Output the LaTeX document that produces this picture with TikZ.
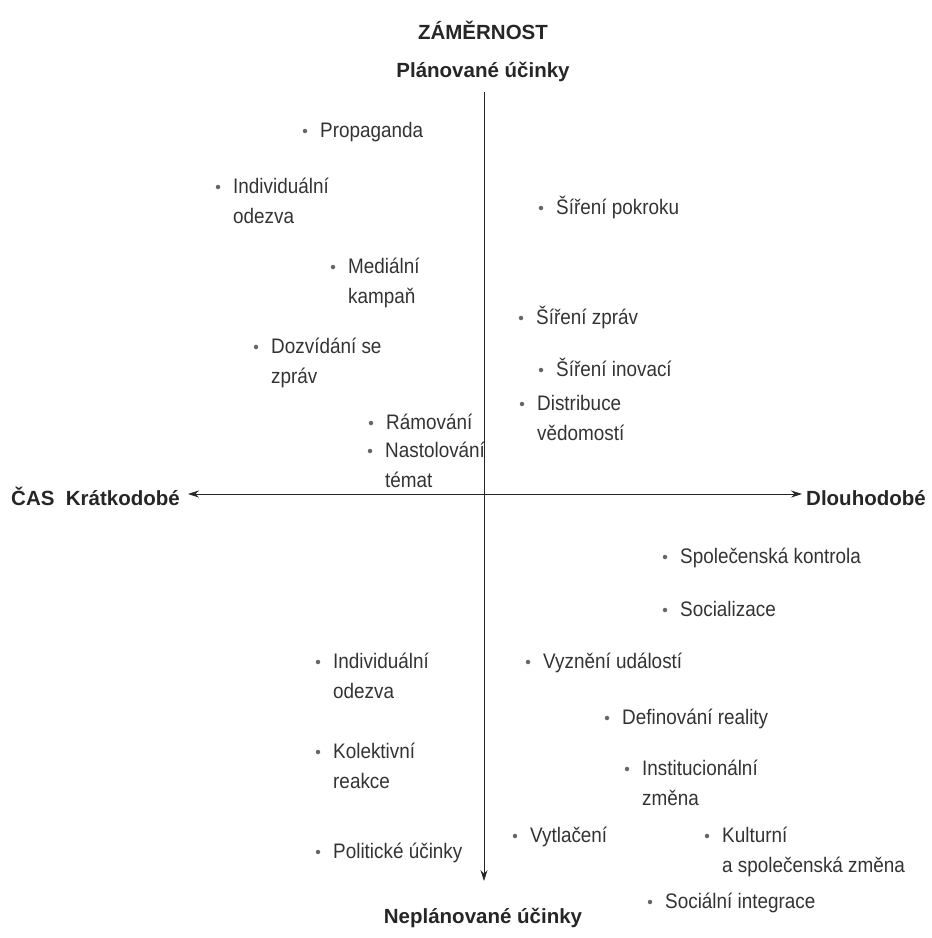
\documentclass[tikz,border=0pt]{standalone}
\usepackage{fontspec}
\setmainfont{Liberation Sans}[FakeStretch=0.9]
\newfontfamily\headfont{Liberation Sans}
\usetikzlibrary{arrows.meta}
\begin{document}
\begin{tikzpicture}[x=1pt,y=-1pt,
  axis/.style={line width=0.7pt,black!85},
  tip/.style={-{Stealth[length=11pt,width=7pt]}},
  head/.style={font=\headfont\fontsize{20.5}{24}\selectfont\bfseries, text=black!85, inner sep=0pt},
  item/.style={font=\fontsize{21}{30}\selectfont, text=black!80, inner sep=0pt, anchor=base west},
  dot/.style={circle, fill=black!60, inner sep=0pt, minimum size=4.5pt}
]
\useasboundingbox (0,0) rectangle (932,938);

% axes
\coordinate (top) at (484,92);
\coordinate (bottom) at (484,881);
\coordinate (left) at (188,494);
\coordinate (right) at (802,494);
\draw[axis,tip] (top) -- (bottom);
\draw[axis,tip] (484,494) -- (left);
\draw[axis,tip] (484,494) -- (right);

% axis titles
\node[head] (zam) at (483,30) {ZÁMĚRNOST};
\node[head] (plan) at (483,72) {Plánované účinky};
\node[head] (neplan) at (483,918) {Neplánované účinky};
\node[head, anchor=east] (kratko) at (180,496) {ČAS\ \ Krátkodobé};
\node[head, anchor=west] (dlouho) at (806,498) {Dlouhodobé};

% items: bullet, then text whose first baseline sits at the given height
\newcommand{\entry}[4]{%
  \node[dot] (#1d) at (#2,#3-6) {};
  \node[item] (#1) at (#2+15,#3) {\begin{tabular}[t]{@{}l@{}}#4\end{tabular}};}

\entry{a1}{305}{137}{Propaganda}
\entry{a2}{218}{193}{Individuální\\odezva}
\entry{a3}{541}{214}{Šíření pokroku}
\entry{a4}{333}{273}{Mediální\\kampaň}
\entry{a5}{521}{324}{Šíření zpráv}
\entry{a6}{256}{353}{Dozvídání se\\zpráv}
\entry{a7}{541}{376}{Šíření inovací}
\entry{a8}{522}{410}{Distribuce\\vědomostí}
\entry{a9}{371}{429}{Rámování}
\entry{a10}{370}{457}{Nastolování\\témat}

\entry{b1}{665}{563}{Společenská kontrola}
\entry{b2}{665}{616}{Socializace}
\entry{b3}{318}{668}{Individuální\\odezva}
\entry{b4}{528}{668}{Vyznění událostí}
\entry{b5}{607}{724}{Definování reality}
\entry{b6}{318}{758}{Kolektivní\\reakce}
\entry{b7}{627}{775}{Institucionální\\změna}
\entry{b8}{515}{842}{Vytlačení}
\entry{b9}{707}{842}{Kulturní\\a společenská změna}
\entry{b10}{318}{858}{Politické účinky}
\entry{b11}{650}{908}{Sociální integrace}
\end{tikzpicture}
\end{document}
